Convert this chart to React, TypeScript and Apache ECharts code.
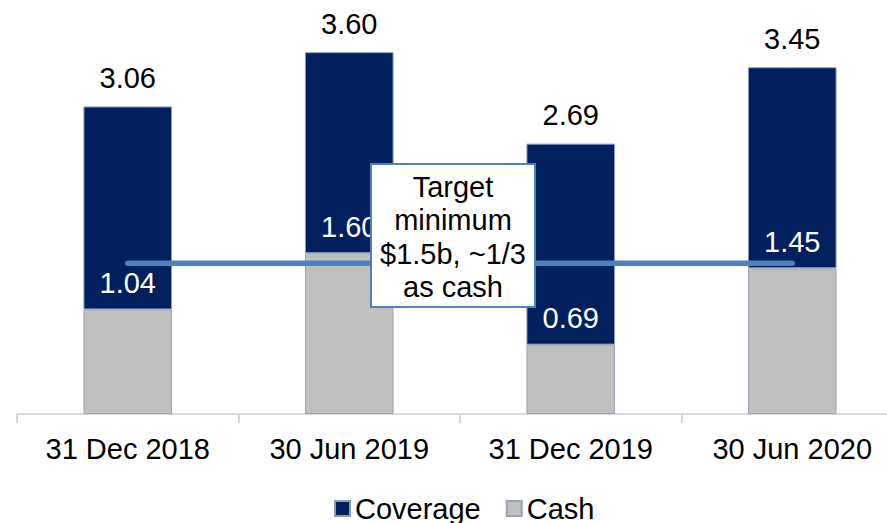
import React, { useEffect, useRef } from "react";
import * as echarts from "echarts";

const categories = ["31 Dec 2018", "30 Jun 2019", "31 Dec 2019", "30 Jun 2020"];
const cashValues = [1.04, 1.6, 0.69, 1.45];
const totalValues = [3.06, 3.6, 2.69, 3.45];
const coverageValues = totalValues.map((t, i) => Math.round((t - cashValues[i]) * 100) / 100);
const targetValue = 1.5;
const targetLine = categories.map(() => targetValue);
const annotationText = "Target\nminimum\n$1.5b, ~1/3\nas cash";

const FONT = "'Liberation Sans', Arial, sans-serif";
const FS = 29;

export default function App() {
  const ref = useRef<HTMLDivElement>(null);
  useEffect(() => {
    if (!ref.current) return;
    const chart = echarts.init(ref.current, undefined, { renderer: "svg" });
    chart.setOption({
      animation: false,
      textStyle: { fontFamily: FONT },
      grid: {
        left: 17,
        width: 886,
        top: 12,
        height: 402,
        containLabel: false,
        outerBoundsMode: "none",
      },
      legend: {
        data: ["Coverage", "Cash"],
        left: 334,
        top: 494,
        padding: 0,
        itemWidth: 15,
        itemHeight: 15,
        itemGap: 25,
        icon: "rect",
        textStyle: { fontSize: FS, color: "#000", fontFamily: FONT },
      },
      xAxis: {
        type: "category",
        data: categories,
        axisLine: { lineStyle: { color: "#d9d9d9", width: 2 } },
        axisTick: { show: true, length: 9, lineStyle: { color: "#d9d9d9", width: 2 } },
        axisLabel: { fontSize: FS, color: "#000", margin: 20, fontFamily: FONT },
      },
      yAxis: {
        type: "value",
        min: 0,
        max: 4,
        show: false,
        splitLine: { show: false },
      },
      series: [
        {
          name: "Cash",
          type: "bar",
          stack: "total",
          barWidth: "40%",
          z: 3,
          data: cashValues,
          itemStyle: { color: "#bfbfbf", borderColor: "#9aa3b5", borderWidth: 1 },
          label: {
            show: true,
            position: "top",
            distance: 12,
            color: "#fff",
            fontSize: FS,
            fontFamily: FONT,
            formatter: (p: any) => cashValues[p.dataIndex].toFixed(2),
          },
        },
        {
          name: "Coverage",
          type: "bar",
          stack: "total",
          barWidth: "40%",
          z: 2,
          data: coverageValues,
          itemStyle: { color: "#03205e", borderColor: "#8a9bbb", borderWidth: 1 },
          label: {
            show: true,
            position: "top",
            distance: 14,
            color: "#000",
            fontSize: FS,
            fontFamily: FONT,
            formatter: (p: any) => totalValues[p.dataIndex].toFixed(2),
          },
        },
        {
          name: "Target",
          type: "line",
          data: targetLine,
          z: 4,
          symbol: "none",
          lineStyle: { color: "#4f81bd", width: 5.5, cap: "round" },
          silent: true,
        },
      ],
      graphic: [
        {
          type: "rect",
          z: 100,
          shape: { x: 371, y: 164, width: 164, height: 143 },
          style: { fill: "#fff", stroke: "#4f81bd", lineWidth: 2 },
        },
        {
          type: "text",
          z: 101,
          x: 453,
          y: 237,
          style: {
            text: annotationText,
            font: `${FS}px ${FONT}`,
            fill: "#000",
            align: "center",
            verticalAlign: "middle",
            lineHeight: 33.3,
          },
        },
      ],
    });
    return () => chart.dispose();
  }, []);
  return <div ref={ref} style={{ width: 887, height: 523, position: "absolute", left: 0, top: 0 }} />;
}
